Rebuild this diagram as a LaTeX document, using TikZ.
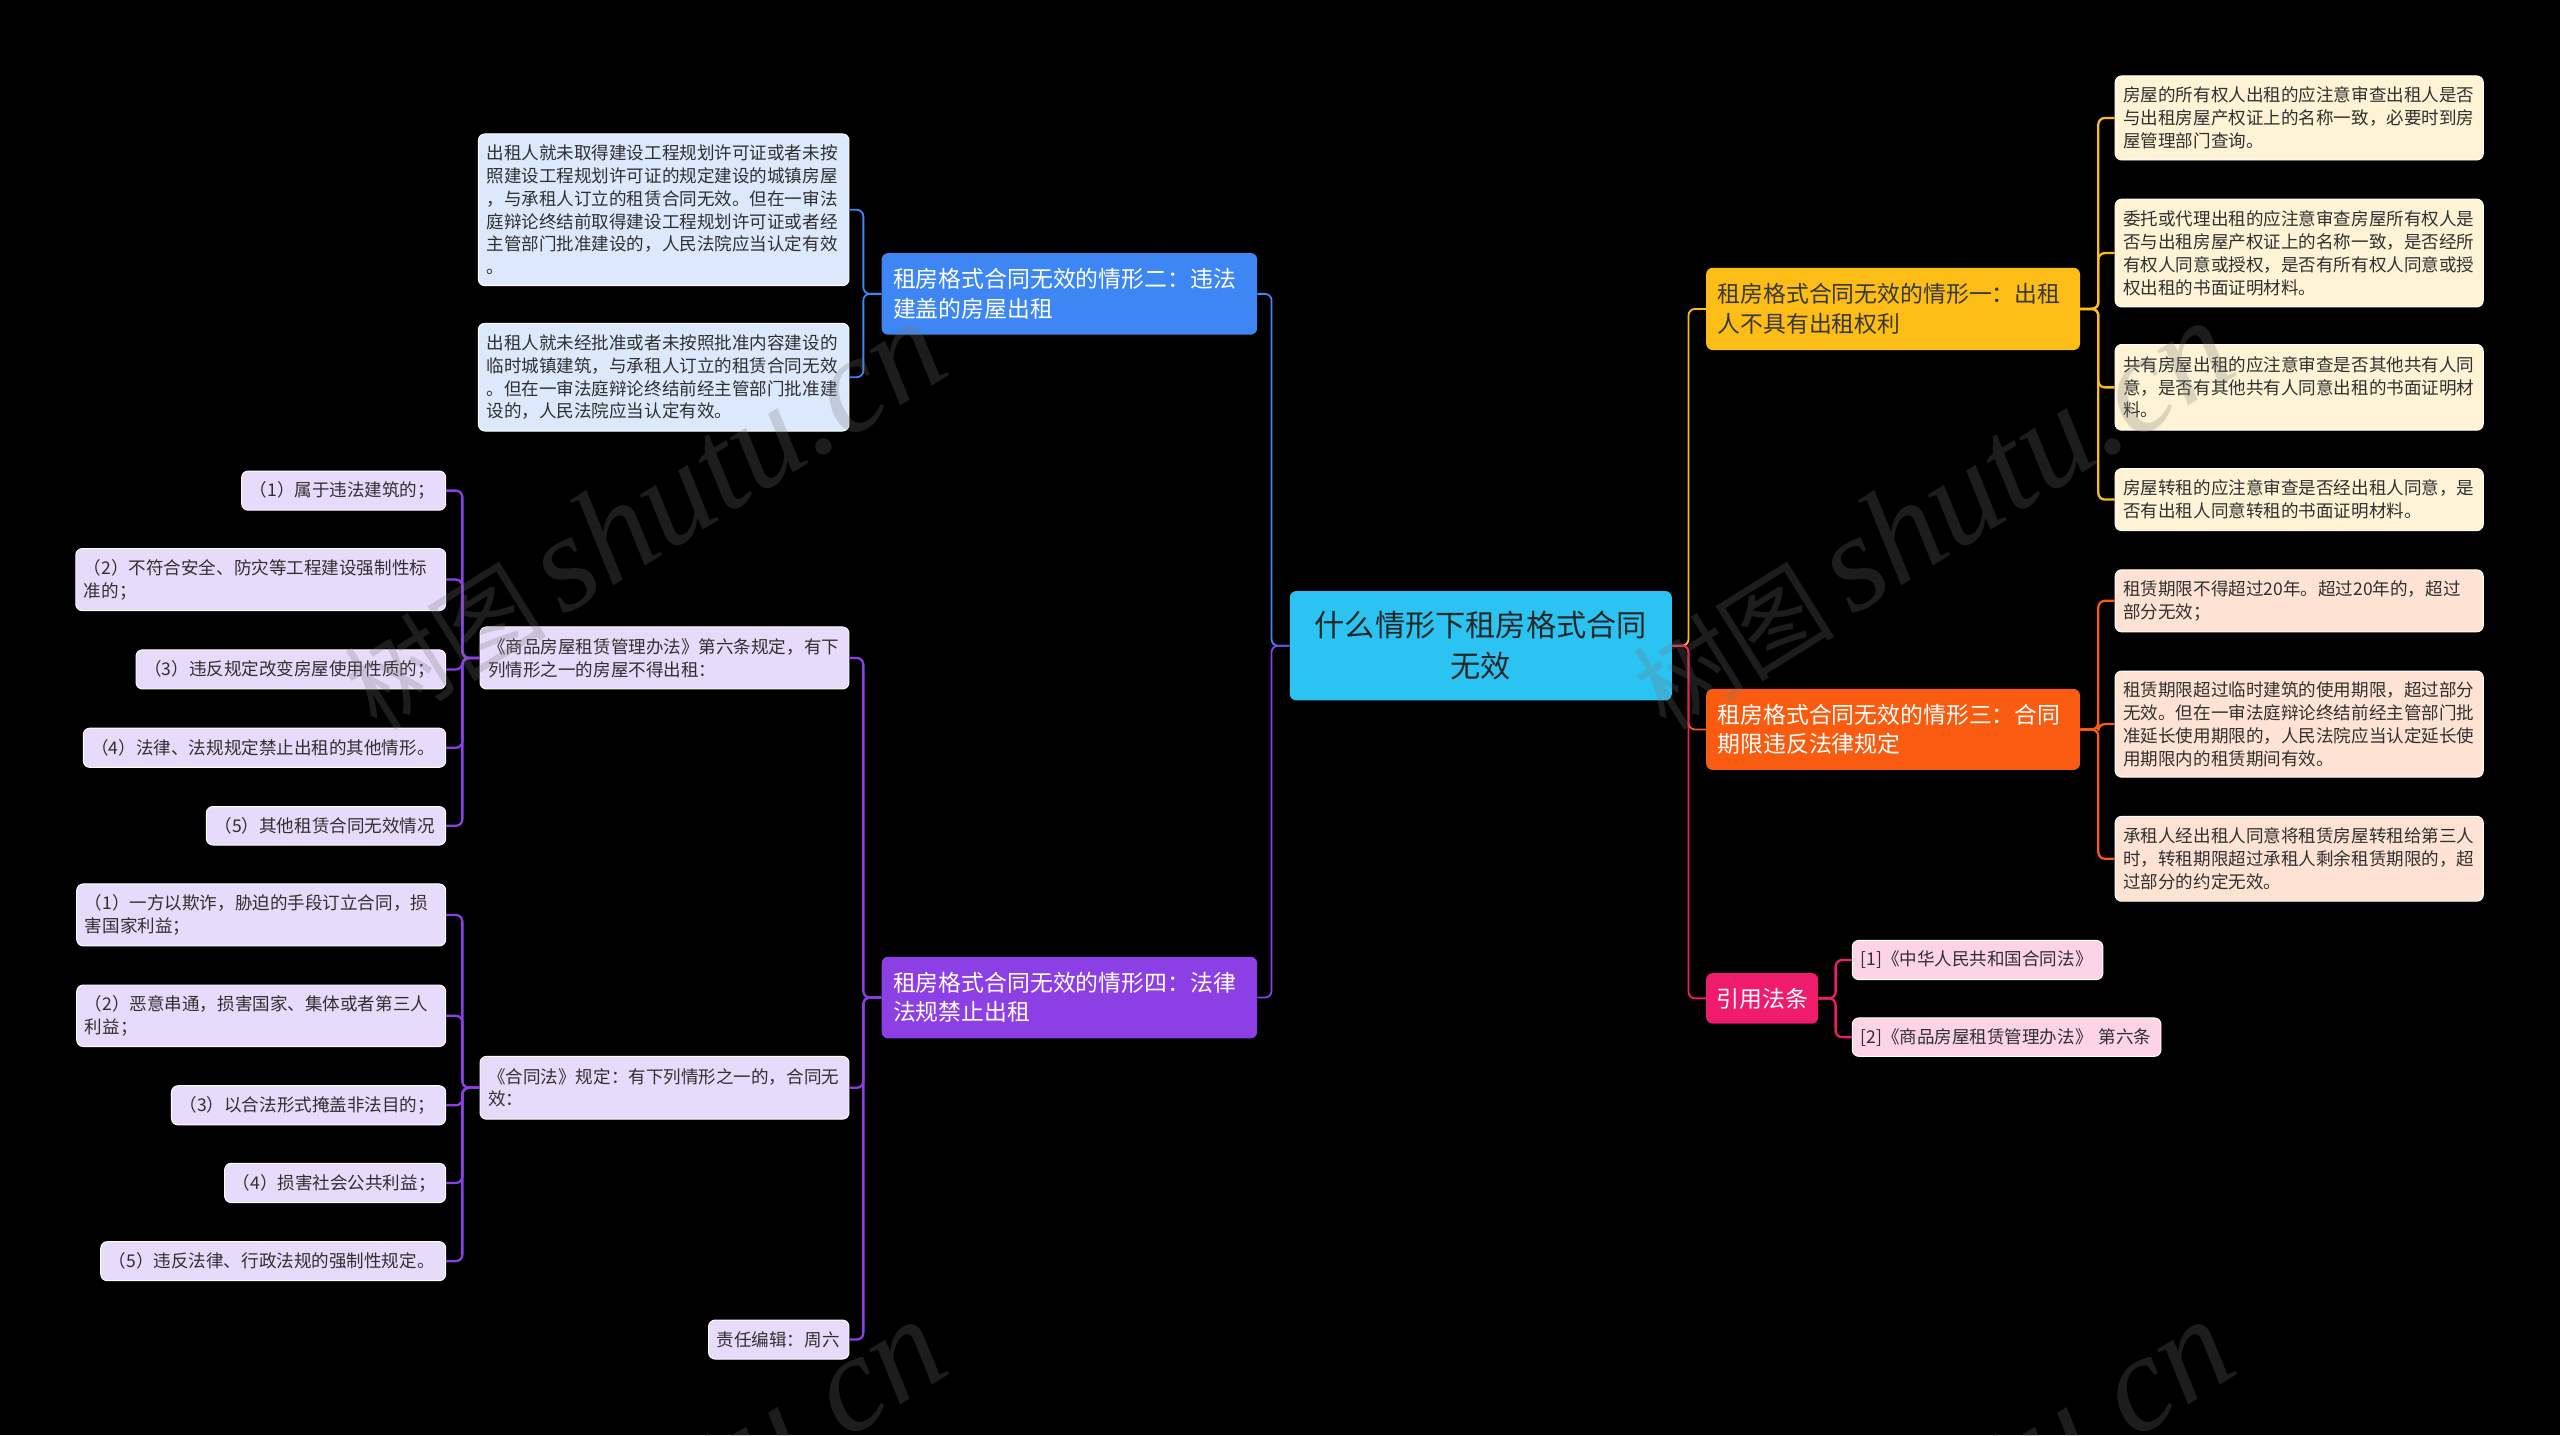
\documentclass[tikz,border=0pt]{standalone}
\usepackage{fontspec}
\setmainfont{Noto Sans CJK SC}
\newfontfamily\wmlatin{Liberation Serif}
\usetikzlibrary{calc}
\definecolor{cCenter}{HTML}{2BC3F1}
\definecolor{cBlue}{HTML}{3D86F4}
\definecolor{cYellow}{HTML}{FBBD16}
\definecolor{cOrange}{HTML}{F95C10}
\definecolor{cPink}{HTML}{EF1B6D}
\definecolor{cPurple}{HTML}{8B3FE4}
\definecolor{lBlue}{HTML}{DCE8FC}
\definecolor{lYellow}{HTML}{FEF3D5}
\definecolor{lOrange}{HTML}{FEE3D4}
\definecolor{lPink}{HTML}{FDD3E6}
\definecolor{lPurple}{HTML}{E6DBFA}
\definecolor{txtDark}{HTML}{303030}
\definecolor{wmGray}{HTML}{777777}
\hfuzz=30pt
\newcommand\leaffont{\fontsize{10.75}{14}\selectfont}
\newcommand\mainfont{\fontsize{14}{18}\selectfont}
\newcommand\centerfont{\fontsize{18.5}{25}\selectfont}
\newcommand\bx[8]{%
  \pgfmathsetmacro\bxw{#4-#2}%
  \pgfmathsetmacro\bxh{#5-#3}%
  \pgfmathsetmacro\bxcx{(#2+#4)/2}%
  \pgfmathsetmacro\bxcy{(#3+#5)/2}%
  \pgfmathsetmacro\bxtw{#4-#2-2*#6}%
  \node[#7, inner xsep=#6pt, inner ysep=0pt, minimum width=\bxw pt, minimum height=\bxh pt, text width=\bxtw pt] (#1) at (\bxcx,\bxcy) {#8};}
\tikzset{
  leafbox/.style={rounded corners=4pt, align=left, font=\leaffont, text=txtDark, draw=white, line width=0.6pt},
  bleaf/.style={leafbox, fill=lBlue},
  yleaf/.style={leafbox, fill=lYellow},
  oleaf/.style={leafbox, fill=lOrange},
  kleaf/.style={leafbox, fill=lPink},
  vleaf/.style={leafbox, fill=lPurple},
  mainbox/.style={rounded corners=4pt, align=left, font=\mainfont, text=white},
  bmain/.style={mainbox, fill=cBlue},
  ymain/.style={mainbox, fill=cYellow, text=black!78},
  omain/.style={mainbox, fill=cOrange},
  kmain/.style={mainbox, fill=cPink, align=center},
  vmain/.style={mainbox, fill=cPurple},
  centerbox/.style={rounded corners=4pt, align=center, font=\centerfont, fill=cCenter, text=black!85},
  mainconn/.style={line width=1.1pt, rounded corners=4pt},
  leafconn/.style={line width=1.4pt, rounded corners=4pt},
  wmark/.style={text=wmGray, opacity=0.25, rotate=32, anchor=base east, inner sep=0pt}
}
\begin{document}
\begin{tikzpicture}[x=1pt,y=-1pt]
\fill[black] (0,0) rectangle (1568,879);
\useasboundingbox (0,0) rectangle (1568,879);

% center
\bx{C}{790}{362}{1024}{429}{6}{centerbox}{什么情形下租房格式合同\\无效}

% left: branch two (blue)
\bx{B2}{540}{155}{770}{205}{7}{bmain}{租房格式合同无效的情形二：违法\\建盖的房屋出租}
\bx{BL1}{293}{82}{520}{175}{5}{bleaf}{出租人就未取得建设工程规划许可证或者未按\\照建设工程规划许可证的规定建设的城镇房屋\\，与承租人订立的租赁合同无效。但在一审法\\庭辩论终结前取得建设工程规划许可证或者经\\主管部门批准建设的，人民法院应当认定有效\\。}
\bx{BL2}{293}{198}{520}{264}{5}{bleaf}{出租人就未经批准或者未按照批准内容建设的\\临时城镇建筑，与承租人订立的租赁合同无效\\。但在一审法庭辩论终结前经主管部门批准建\\设的，人民法院应当认定有效。}

% left: branch four (purple)
\bx{P4}{540}{586}{770}{636}{7}{vmain}{租房格式合同无效的情形四：法律\\法规禁止出租}
\bx{PA}{294}{384}{520}{422}{5}{vleaf}{《商品房屋租赁管理办法》第六条规定，有下\\列情形之一的房屋不得出租：}
\bx{PA1}{148}{288.5}{273}{312.5}{5}{vleaf}{（1）属于违法建筑的；}
\bx{PA2}{46.4}{336}{273}{374}{5}{vleaf}{（2）不符合安全、防灾等工程建设强制性标\\准的；}
\bx{PA3}{83.3}{398}{273}{422}{5}{vleaf}{（3）违反规定改变房屋使用性质的；}
\bx{PA4}{51}{446}{273}{470}{5}{vleaf}{（4）法律、法规规定禁止出租的其他情形。}
\bx{PA5}{126.4}{494}{273}{517.6}{5}{vleaf}{（5）其他租赁合同无效情况}
\bx{PB}{294}{647}{520}{685.5}{5}{vleaf}{《合同法》规定：有下列情形之一的，合同无\\效：}
\bx{PB1}{47}{541.4}{273}{579.4}{5}{vleaf}{（1）一方以欺诈，胁迫的手段订立合同，损\\害国家利益；}
\bx{PB2}{47}{603.3}{273}{641}{5}{vleaf}{（2）恶意串通，损害国家、集体或者第三人\\利益；}
\bx{PB3}{105}{665}{273}{689}{5}{vleaf}{（3）以合法形式掩盖非法目的；}
\bx{PB4}{137.6}{712.5}{273}{736.6}{5}{vleaf}{（4）损害社会公共利益；}
\bx{PB5}{61.7}{760.5}{273}{784.4}{5}{vleaf}{（5）违反法律、行政法规的强制性规定。}
\bx{PE}{434}{808.5}{520}{832.4}{5}{vleaf}{责任编辑：周六}

% right: branch one (yellow)
\bx{Y1}{1045}{164}{1274}{214.4}{7}{ymain}{租房格式合同无效的情形一：出租\\人不具有出租权利}
\bx{YL1}{1295.5}{46.5}{1521}{98}{5}{yleaf}{房屋的所有权人出租的应注意审查出租人是否\\与出租房屋产权证上的名称一致，必要时到房\\屋管理部门查询。}
\bx{YL2}{1295.5}{122}{1521}{188}{5}{yleaf}{委托或代理出租的应注意审查房屋所有权人是\\否与出租房屋产权证上的名称一致，是否经所\\有权人同意或授权，是否有所有权人同意或授\\权出租的书面证明材料。}
\bx{YL3}{1295.5}{211}{1521}{263.5}{5}{yleaf}{共有房屋出租的应注意审查是否其他共有人同\\意，是否有其他共有人同意出租的书面证明材\\料。}
\bx{YL4}{1295.5}{287}{1521}{325}{5}{yleaf}{房屋转租的应注意审查是否经出租人同意，是\\否有出租人同意转租的书面证明材料。}

% right: branch three (orange)
\bx{O3}{1045}{422}{1274}{471.6}{7}{omain}{租房格式合同无效的情形三：合同\\期限违反法律规定}
\bx{OL1}{1295.5}{349}{1521}{387}{5}{oleaf}{租赁期限不得超过20年。超过20年的，超过\\部分无效；}
\bx{OL2}{1295.5}{411}{1521}{476}{5}{oleaf}{租赁期限超过临时建筑的使用期限，超过部分\\无效。但在一审法庭辩论终结前经主管部门批\\准延长使用期限的，人民法院应当认定延长使\\用期限内的租赁期间有效。}
\bx{OL3}{1295.5}{500}{1521}{552}{5}{oleaf}{承租人经出租人同意将租赁房屋转租给第三人\\时，转租期限超过承租人剩余租赁期限的，超\\过部分的约定无效。}

% right: references (pink)
\bx{PK}{1045}{596}{1113.6}{627}{6}{kmain}{引用法条}
\bx{PKL1}{1134.5}{576}{1288}{600}{5}{kleaf}{[1]《中华人民共和国合同法》}
\bx{PKL2}{1134.5}{623.5}{1323.6}{647}{5}{kleaf}{[2]《商品房屋租赁管理办法》 第六条}

% connectors: center to branches
\draw[mainconn, cBlue] (C.west) -- ++(-11,0) |- (B2.east);
\draw[mainconn, cPurple] (C.west) -- ++(-11,0) |- (P4.east);
\draw[mainconn, cYellow] (C.east) -- ++(10,0) |- (Y1.west);
\draw[mainconn, cOrange] (C.east) -- ++(10,0) |- (O3.west);
\draw[mainconn, cPink] (C.east) -- ++(10,0) |- (PK.west);

% blue leaves
\foreach \n in {BL1,BL2}
  \draw[leafconn, cBlue, line width=1.1pt] (B2.west) -- ++(-11,0) |- (\n.east);
% purple
\foreach \n in {PA,PB,PE}
  \draw[leafconn, cPurple] (P4.west) -- ++(-11,0) |- (\n.east);
\foreach \n in {PA1,PA2,PA3,PA4,PA5}
  \draw[leafconn, cPurple] (PA.west) -- ++(-10.5,0) |- (\n.east);
\foreach \n in {PB1,PB2,PB3,PB4,PB5}
  \draw[leafconn, cPurple] (PB.west) -- ++(-10.5,0) |- (\n.east);
% yellow
\foreach \n in {YL1,YL2,YL3,YL4}
  \draw[leafconn, cYellow] (Y1.east) -- ++(11,0) |- (\n.west);
% orange
\foreach \n in {OL1,OL2,OL3}
  \draw[leafconn, cOrange] (O3.east) -- ++(11,0) |- (\n.west);
% pink
\foreach \n in {PKL1,PKL2}
  \draw[leafconn, cPink] (PK.east) -- ++(10.5,0) |- (\n.west);

% watermarks
\begin{scope}
\clip (0,0) rectangle (1568,879);
\foreach \dx/\dy [count=\i] in {0/0,789/0,0/612,789/612}
  \node[wmark] (wm\i) at (585+\dx,228+\dy) {\fontsize{62}{62}\selectfont 树图\,{\wmlatin\itshape\fontsize{84}{84}\selectfont shutu.cn}};
\end{scope}
\end{tikzpicture}
\end{document}
